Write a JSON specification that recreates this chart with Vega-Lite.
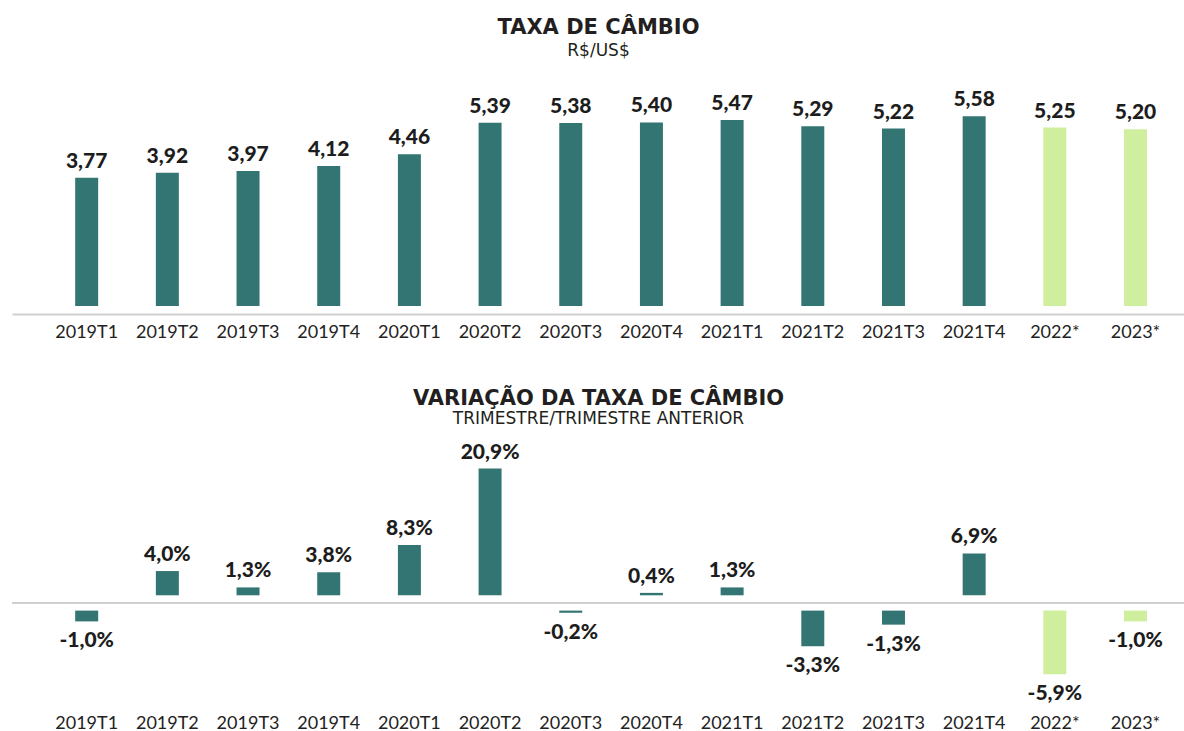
{
  "$schema": "https://vega.github.io/schema/vega-lite/v6.json",
  "background": "white",
  "padding": {"left": 11, "top": 17, "right": 0, "bottom": 0},
  "spacing": 46,
  "datasets": {
    "cambio": [
      {"periodo": "2019T1", "taxa": 3.77, "variacao": -0.010, "tipo": "Realizado"},
      {"periodo": "2019T2", "taxa": 3.92, "variacao": 0.040, "tipo": "Realizado"},
      {"periodo": "2019T3", "taxa": 3.97, "variacao": 0.013, "tipo": "Realizado"},
      {"periodo": "2019T4", "taxa": 4.12, "variacao": 0.038, "tipo": "Realizado"},
      {"periodo": "2020T1", "taxa": 4.46, "variacao": 0.083, "tipo": "Realizado"},
      {"periodo": "2020T2", "taxa": 5.39, "variacao": 0.209, "tipo": "Realizado"},
      {"periodo": "2020T3", "taxa": 5.38, "variacao": -0.002, "tipo": "Realizado"},
      {"periodo": "2020T4", "taxa": 5.40, "variacao": 0.004, "tipo": "Realizado"},
      {"periodo": "2021T1", "taxa": 5.47, "variacao": 0.013, "tipo": "Realizado"},
      {"periodo": "2021T2", "taxa": 5.29, "variacao": -0.033, "tipo": "Realizado"},
      {"periodo": "2021T3", "taxa": 5.22, "variacao": -0.013, "tipo": "Realizado"},
      {"periodo": "2021T4", "taxa": 5.58, "variacao": 0.069, "tipo": "Realizado"},
      {"periodo": "2022*", "taxa": 5.25, "variacao": -0.059, "tipo": "Projeção"},
      {"periodo": "2023*", "taxa": 5.20, "variacao": -0.010, "tipo": "Projeção"}
    ]
  },
  "vconcat": [
    {
      "width": 1173,
      "height": 204,
      "data": {"name": "cambio"},
      "title": {
        "text": "TAXA DE CÂMBIO",
        "subtitle": "R$/US$",
        "anchor": "middle",
        "font": "DejaVu Sans",
        "fontSize": 21,
        "fontWeight": "bold",
        "color": "#231f20",
        "subtitleFont": "DejaVu Sans",
        "subtitleFontSize": 17,
        "subtitleColor": "#231f20",
        "subtitlePadding": 5,
        "offset": 30
      },
      "encoding": {
        "x": {
          "field": "periodo",
          "type": "nominal",
          "sort": null,
          "scale": {
            "domain": ["2019T1", "2019T2", "2019T3", "2019T4", "2020T1", "2020T2", "2020T3", "2020T4", "2021T1", "2021T2", "2021T3", "2021T4", "2022*", "2023*"],
            "paddingInner": 0.715, "paddingOuter": 0.627, "align": 0.6245
          },
          "axis": {
            "title": null,
            "labelAngle": 0,
            "offset": 8,
            "domainColor": "#d0d0d0",
            "domainWidth": 2,
            "ticks": false,
            "labelPadding": 9,
            "labelFont": "Lato",
            "labelFontSize": 18,
            "labelColor": "#222222"
          }
        },
        "y": {
          "field": "taxa",
          "type": "quantitative",
          "scale": {"domain": [0, 6], "nice": false},
          "axis": null
        }
      },
      "layer": [
        {
          "mark": {"type": "bar"},
          "encoding": {
            "color": {
              "field": "tipo",
              "type": "nominal",
              "scale": {"domain": ["Realizado", "Projeção"], "range": ["#327572", "#d0ef9e"]},
              "legend": null
            }
          }
        },
        {
          "mark": {"type": "text", "baseline": "alphabetic", "dy": -10, "font": "Lato", "fontSize": 21, "fontWeight": 900, "color": "#1d1d1d"},
          "encoding": {
            "text": {"field": "taxa", "type": "quantitative", "format": ".2f"}
          }
        }
      ]
    },
    {
      "width": 1173,
      "height": 210,
      "data": {"name": "cambio"},
      "title": {
        "text": "VARIAÇÃO DA TAXA DE CÂMBIO",
        "subtitle": "TRIMESTRE/TRIMESTRE ANTERIOR",
        "anchor": "middle",
        "font": "DejaVu Sans",
        "fontSize": 21,
        "fontWeight": "bold",
        "color": "#231f20",
        "subtitleFont": "DejaVu Sans",
        "subtitleFontSize": 17,
        "subtitleColor": "#231f20",
        "subtitlePadding": 2,
        "offset": 15
      },
      "encoding": {
        "x": {
          "field": "periodo",
          "type": "nominal",
          "sort": null,
          "scale": {
            "domain": ["2019T1", "2019T2", "2019T3", "2019T4", "2020T1", "2020T2", "2020T3", "2020T4", "2021T1", "2021T2", "2021T3", "2021T4", "2022*", "2023*"],
            "paddingInner": 0.715, "paddingOuter": 0.627, "align": 0.6245
          },
          "axis": {
            "title": null,
            "labelAngle": 0,
            "domain": false,
            "ticks": false,
            "labelPadding": 36,
            "labelFont": "Lato",
            "labelFontSize": 18,
            "labelColor": "#222222"
          }
        }
      },
      "layer": [
        {
          "mark": {"type": "rule", "color": "#d0d0d0", "strokeWidth": 2},
          "encoding": {
            "x": null,
            "y": {
              "datum": 0,
              "type": "quantitative",
              "scale": {"domain": [-0.06, -1e-9, 1e-9, 0.21], "range": [207.4, 142.6, 127.3, 0], "nice": false, "zero": false},
              "axis": null
            }
          }
        },
        {
          "transform": [{"filter": "datum.variacao > 0"}],
          "mark": {"type": "bar"},
          "encoding": {
            "y": {"field": "variacao", "type": "quantitative"},
            "y2": {"datum": 1e-9},
            "color": {"field": "tipo", "type": "nominal", "legend": null}
          }
        },
        {
          "transform": [{"filter": "datum.variacao < 0"}],
          "mark": {"type": "bar"},
          "encoding": {
            "y": {"field": "variacao", "type": "quantitative"},
            "y2": {"datum": -1e-9},
            "color": {"field": "tipo", "type": "nominal", "legend": null}
          }
        },
        {
          "transform": [{"filter": "datum.variacao > 0"}],
          "mark": {"type": "text", "baseline": "alphabetic", "dy": -10, "font": "Lato", "fontSize": 21, "fontWeight": 900, "color": "#1d1d1d"},
          "encoding": {
            "y": {"field": "variacao", "type": "quantitative"},
            "text": {"field": "variacao", "type": "quantitative", "format": ".1%"}
          }
        },
        {
          "transform": [{"filter": "datum.variacao < 0"}],
          "mark": {"type": "text", "baseline": "top", "dy": 9, "font": "Lato", "fontSize": 21, "fontWeight": 900, "color": "#1d1d1d"},
          "encoding": {
            "y": {"field": "variacao", "type": "quantitative"},
            "text": {"field": "variacao", "type": "quantitative", "format": ".1%"}
          }
        }
      ]
    }
  ],
  "config": {
    "view": {"stroke": null},
    "locale": {
      "number": {"decimal": ",", "thousands": ".", "grouping": [3], "currency": ["R$", ""], "minus": "-"}
    }
  }
}
